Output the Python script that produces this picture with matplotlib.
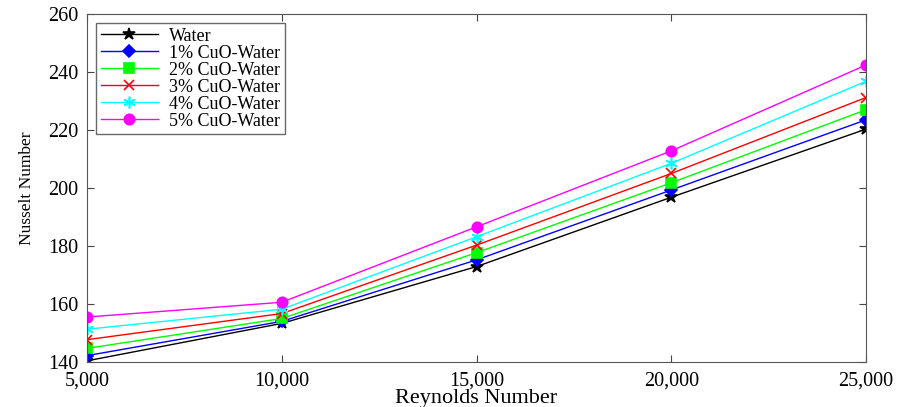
import numpy as np
import matplotlib.pyplot as plt
from matplotlib.ticker import FuncFormatter

plt.rcParams['font.family'] = ['Liberation Serif', 'DejaVu Serif']

reynolds = [5000, 10000, 15000, 20000, 25000]
water = [140.4, 153.3, 172.9, 196.8, 220.3]
cuo_1 = [142.2, 154.0, 175.2, 199.3, 223.5]
cuo_2 = [144.7, 155.0, 177.7, 201.8, 227.0]
cuo_3 = [147.7, 156.7, 180.3, 205.0, 231.2]
cuo_4 = [151.3, 158.2, 183.2, 208.5, 236.8]
cuo_5 = [155.5, 160.6, 186.6, 212.8, 242.4]

labels = ["Water", "1% CuO-Water", "2% CuO-Water", "3% CuO-Water",
          "4% CuO-Water", "5% CuO-Water"]
series = [water, cuo_1, cuo_2, cuo_3, cuo_4, cuo_5]
colors = ["black", "blue", "#00ff00", "red", "cyan", "magenta"]
markers = ["*", "D", "s", "x", (6, 2, 0), "o"]
msizes = [9, 6.5, 6.5, 7.5, 8.5, 7.5]

fig = plt.figure(figsize=(9, 4.07), dpi=100)
ax = fig.add_axes([0.0967, 0.1106, 0.8655, 0.855])

for y, lab, c, m, ms in zip(series, labels, colors, markers, msizes):
    ax.plot(reynolds, y, color=c, marker=m, markersize=ms, linewidth=1,
            markeredgewidth=1.2, label=lab)

ax.set_xlim(5000, 25000)
ax.set_ylim(140, 260)
ax.set_xticks(reynolds)
ax.set_yticks(np.arange(140, 261, 20))
ax.xaxis.set_major_formatter(FuncFormatter(lambda v, p: f"{int(v):,}"))
ax.tick_params(direction="in", top=True, right=True, labelsize=14.5,
               length=5, color="#444444")
ax.tick_params(axis="x", pad=7)
ax.tick_params(axis="y", pad=6)
for s in ax.spines.values():
    s.set_color("#555555")

ax.set_xlabel("Reynolds Number", fontsize=16, labelpad=-1)
ax.set_ylabel("Nusselt Number", fontsize=12.5, labelpad=10)

leg = ax.legend(loc="upper left", fontsize=13, frameon=True, fancybox=False,
                edgecolor="#444444", borderaxespad=0.5, handlelength=3.2,
                labelspacing=0.0, borderpad=0.25, handletextpad=0.6)
leg.get_frame().set_linewidth(1)

plt.savefig("out.png", dpi=100)
